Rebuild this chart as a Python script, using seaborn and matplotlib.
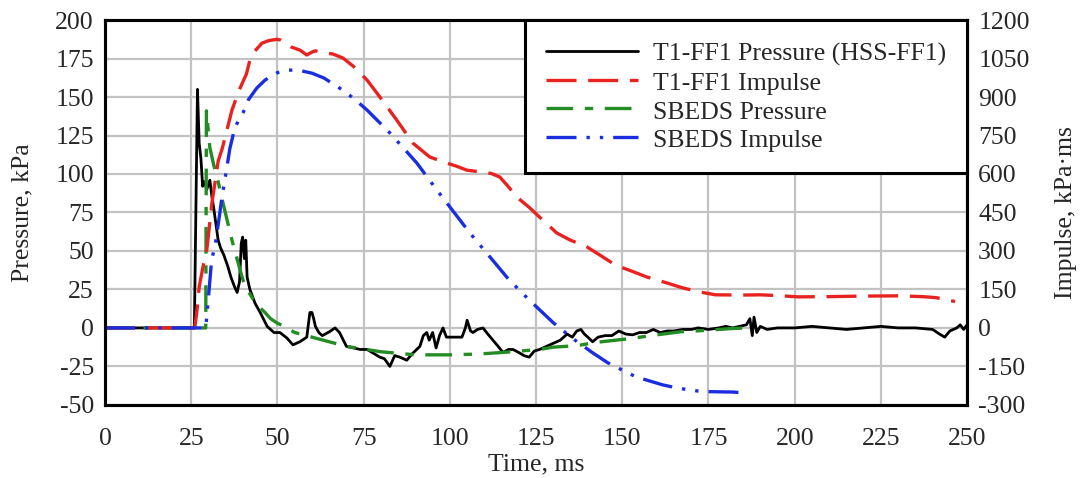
import numpy as np
import pandas as pd
import matplotlib
matplotlib.use("Agg")
import matplotlib.pyplot as plt
import seaborn as sns

# ---------------- data ----------------
p_t = [0, 25.9, 26.8, 27.3, 27.8, 28.3, 28.8, 29.5, 30.4, 31.0, 31.5, 32.0, 32.8, 33.5,
       34.5, 35.6, 36.5, 37.5, 38.3, 39.0, 39.5, 39.9, 40.4, 40.8, 41.2, 42.0, 43.5, 45.0,
       47.0, 49.0, 50.7, 52.7, 54.5, 56.5, 58.5, 59.4, 60.0, 60.5, 61.0, 62.0, 63.0, 65.0,
       66.7, 68.0, 70.0, 72.0, 74.0, 76.0, 79.7, 81.0, 82.6, 84.0, 85.5, 87.5, 89.0, 91.3,
       92.3, 93.3, 94.0, 95.0, 96.0, 97.0, 98.0, 99.0, 101.0, 103.5, 104.5, 105.0, 106.0,
       106.7, 108.0, 109.6, 111.0, 112.5, 114.0, 115.4, 117.0, 118.3, 120.0, 121.5, 123.0,
       124.5, 126.0, 128.0, 130.0, 132.0, 134.0, 135.5, 136.8, 138.0, 139.0, 140.0, 141.4,
       143.0, 145.0, 147.0, 149.0, 151.0, 153.0, 155.0, 157.0, 159.0, 161.0, 163.0, 165.0,
       167.5, 170.0, 172.0, 175.0, 178.0, 180.0, 182.0, 184.0, 186.0, 187.0, 187.7, 188.2,
       189.0, 190.0, 192.0, 195.0, 200.0, 205.0, 210.0, 215.0, 220.0, 225.0, 230.0, 235.0,
       240.0, 242.0, 243.5, 245.0, 247.0, 248.0, 249.0, 250.0]
p_val = [0, 0, 155, 120, 110, 92, 95, 90, 96, 85, 78, 70, 57, 52,
         47, 40, 33, 27, 23, 30, 55, 59, 45, 57, 33, 25, 16, 10,
         1, -3, -3, -6.5, -11, -9, -6, 10, 10, 6, 1, -3, -5, -2.6,
         0, -3, -12, -13, -14, -14, -19, -20, -25, -18, -19, -21, -17, -12,
         -5, -3, -8, -3, -13, -5, 0, -6, -6, -6, 0, 5, -2,
         -3, -1, 0, -4, -8, -12, -16, -14, -14, -16, -18, -19,
         -15, -14, -12, -10, -8, -4, -6, -2, -1, -4, -6, -9,
         -6, -5, -5, -2, -4, -4.5, -3, -3, -1, -3, -2, -2,
         -1, -1, 0, -1, 0, 1, 0, 1, 2, 6, -5, 7,
         -3, 1, -1, 0, 0, 1, 0, -1, 0, 1, 0, 0,
         -1, -4, -6, -2, 0, 2, -1, 2]

ri_t = [0, 26.0, 26.6, 27.3, 28.4, 29.5, 31.0, 32.0, 32.8, 34.0, 36.8, 39.0, 41.0, 42.0,
        43.5, 45.5, 47.5, 49.8, 51.0, 52.5, 54.0, 56.5, 58.5, 60.0, 61.0, 62.5, 64.0, 66.0,
        69.0, 72.0, 76.0, 79.7, 84.6, 89.3, 94.2, 99.0, 102.0, 104.9, 109.0, 112.0, 114.5,
        117.0, 119.4, 123.0, 126.0, 131.0, 134.8, 139.7, 143.5, 148.0, 153.0, 157.0, 163.0,
        167.5, 172.5, 177.0, 185.0, 190.0, 195.0, 201.0, 210.0, 220.0, 230.0, 237.0, 241.0,
        244.0, 246.5]
ri_val = [0, 0, 60, 160, 238, 304, 487, 577, 650, 700, 849, 930, 990, 1044,
          1080, 1110, 1120, 1125, 1122, 1110, 1095, 1083, 1064, 1075, 1080, 1075, 1071, 1068,
          1052, 1020, 966, 900, 810, 720, 666, 643, 630, 615, 608, 602, 588,
          550, 510, 470, 432, 370, 343, 316, 284, 245, 220, 199, 175,
          156, 140, 129, 128, 129, 126, 121, 122, 124, 125, 122, 118,
          109, 103]

sp_t = [0, 29.2, 29.4, 30.4, 31.5, 32.5, 34.0, 35.4, 36.8, 38.5, 40.0, 42.0, 44.0, 46.4,
        48.0, 50.0, 52.0, 55.0, 60.0, 65.0, 70.0, 80.0, 90.0, 100.0, 108.0, 115.0, 126.0,
        130.0, 137.0, 142.0, 152.0, 160.0, 167.0, 175.0, 181.0, 186.0]
sp_val = [0, 0, 141, 117, 106, 98, 83, 70, 57, 43, 31, 22, 15, 10,
          6, 3, 1, -3, -6, -9, -12, -15.5, -17.5, -17.5, -17, -16, -14,
          -12.5, -11.5, -9.5, -7, -4.5, -2.5, -1.5, -0.5, 0]

si_t = [0, 29.2, 29.6, 30.1, 30.9, 31.9, 33.0, 33.8, 35.3, 36.2, 37.7, 40.0, 41.5, 44.0,
        46.4, 47.8, 50.0, 52.7, 56.0, 60.0, 63.5, 68.0, 72.0, 76.0, 82.6, 90.4, 96.2,
        105.8, 111.6, 117.0, 123.0, 130.0, 136.0, 141.4, 145.8, 149.9, 154.0, 161.7,
        165.8, 169.6, 173.0, 182.0, 185.0]
si_val = [0, 0, 60, 136, 265, 320, 420, 500, 623, 700, 783, 838, 888, 935,
          966, 978, 995, 1005, 1005, 993, 974, 935, 896, 849, 760, 643, 538,
          370, 277, 190, 109, 20, -45, -97, -136, -164, -191, -222,
          -234, -242, -248, -250, -253]

x_ticks = list(range(0, 251, 25))
p_ticks = list(range(-50, 201, 25))
i_ticks = list(range(-300, 1201, 150))

labels = ["T1-FF1 Pressure (HSS-FF1)", "T1-FF1 Impulse", "SBEDS Pressure", "SBEDS Impulse"]

# ---------------- style ----------------
sns.set_style("white")
plt.rcParams["font.family"] = ["Liberation Serif", "DejaVu Serif"]

fig = plt.figure(figsize=(10.83, 4.78), dpi=100)
ax = fig.add_axes([0.097, 0.153, 0.796, 0.805])
ax2 = ax.twinx()

FS = 18.5

sns.lineplot(x=p_t, y=p_val, ax=ax, color="black", lw=2.0, estimator=None,
             sort=False, legend=False)
sns.lineplot(x=sp_t, y=sp_val, ax=ax, color="#238c23", lw=2.4, estimator=None,
             sort=False, linestyle=(0, (8, 3.5, 2.5, 3.5)), legend=False)
sns.lineplot(x=ri_t, y=ri_val, ax=ax2, color="#e8231f", lw=2.4, estimator=None,
             sort=False, linestyle=(0, (9, 3.5)), legend=False)
sns.lineplot(x=si_t, y=si_val, ax=ax2, color="#1a2de0", lw=2.4, estimator=None,
             sort=False, linestyle=(0, (9, 3, 1, 3, 1, 3)), legend=False)

ax.set_xlim(0, 250)
ax.set_ylim(-50, 200)
ax2.set_ylim(-300, 1200)
ax.set_xticks(x_ticks)
ax.set_yticks(p_ticks)
ax2.set_yticks(i_ticks)
ax.set_xticklabels([str(v) for v in x_ticks], fontsize=FS)
ax.set_yticklabels([str(v) for v in p_ticks], fontsize=FS)
ax2.set_yticklabels([str(v) for v in i_ticks], fontsize=FS)

ax.grid(True, color="#c2c2c2", lw=1.6)
ax2.grid(False)
ax.tick_params(axis="y", length=0, pad=8)
ax.tick_params(axis="x", length=0, pad=17)
ax2.tick_params(length=0, pad=8)

for a in (ax, ax2):
    for s in a.spines.values():
        s.set_visible(True)
        s.set_color("black")
        s.set_linewidth(2.2)

ax.set_xlabel("Time, ms", fontsize=FS, labelpad=2.5)
ax.set_ylabel("Pressure, kPa", fontsize=FS, labelpad=16)
ax2.set_ylabel("Impulse, kPa·ms", fontsize=FS, labelpad=18)

lines = ax.get_lines()[:2] + ax2.get_lines()[:2]
handles = [lines[0], lines[2], lines[1], lines[3]]
leg = ax2.legend(handles, labels, loc="upper right", bbox_to_anchor=(1, 1),
                 borderaxespad=0, fontsize=FS, frameon=True, fancybox=False,
                 framealpha=1, edgecolor="black", handlelength=3.6,
                 handleheight=1.0, labelspacing=0.13, borderpad=0.8,
                 handletextpad=0.6)
leg.get_frame().set_linewidth(2.2)

fig.savefig("out.png", dpi=100)
